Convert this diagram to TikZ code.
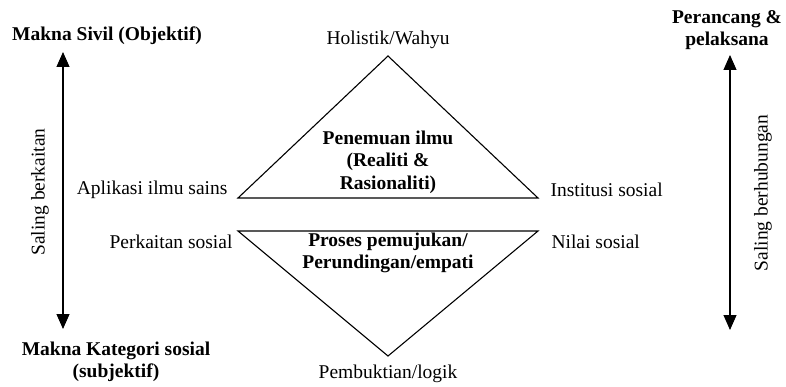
\documentclass[tikz,border=0pt]{standalone}
\usepackage{fontspec}
\setmainfont{Liberation Serif}
\usetikzlibrary{arrows.meta,positioning}

\begin{document}
\begin{tikzpicture}[
		x=1pt, y=-1pt,
		> = {Triangle[width=13pt,length=15pt]},
		line width=1.1pt,
		txt/.style = {inner sep=0pt,font=\fontsize{19.5}{22.5}\selectfont},
		head/.style = {txt,align=center,font=\fontsize{19.5}{22.5}\selectfont\bfseries}
		]
		\useasboundingbox (0,0) rectangle (786,387);
		% the two triangles
		\coordinate (top) at (388,56);
		\coordinate (ul) at (238,198);
		\coordinate (ur) at (538,198);
		\coordinate (ll) at (238,231);
		\coordinate (lr) at (538,231);
		\coordinate (bot) at (388,356);
		\draw (ul) -- (top) -- (ur) -- cycle;
		\draw (ll) -- (lr) -- (bot) -- cycle;
		
		% corner labels
		\node[txt] at (388,40) (holistik) {Holistik/Wahyu};
		\node[txt] at (388,374) (bukti) {Pembuktian/logik};
		\node[txt,anchor=east] at (228,190) (aplikasi) {Aplikasi ilmu sains};
		\node[txt,anchor=west] at (550,190) (institusi) {Institusi sosial};
		\node[txt,anchor=east] at (233,242) (perkaitan) {Perkaitan sosial};
		\node[txt,anchor=west] at (551,242) (nilai) {Nilai sosial};
		\node[head] at (388,162) (penemuan) {Penemuan ilmu\\(Realiti \&\\Rasionaliti)};
		\node[head] at (388,253) (proses) {Proses pemujukan/\\Perundingan/empati};
		
		% side arrows
		\node[head] at (107,36) (sivil) {Makna Sivil (Objektif)};
		\node[head] at (116,362) (kategori) {Makna Kategori sosial\\(subjektif)};
		\node[head] at (727,30) (perancang) {Perancang \&\\pelaksana};
		\coordinate (ltop) at (63,52);
		\coordinate (lbot) at (63,329);
		\coordinate (rtop) at (730,55);
		\coordinate (rbot) at (730,330);
		\draw[<->] (ltop) -- (lbot);
		\draw[<->] (rtop) -- (rbot);
		\node[txt,rotate=90] at (40,192) (berkaitan) {Saling berkaitan};
		\node[txt,rotate=90] at (763,193) (berhubungan) {Saling berhubungan};
	\end{tikzpicture}
\end{document}
